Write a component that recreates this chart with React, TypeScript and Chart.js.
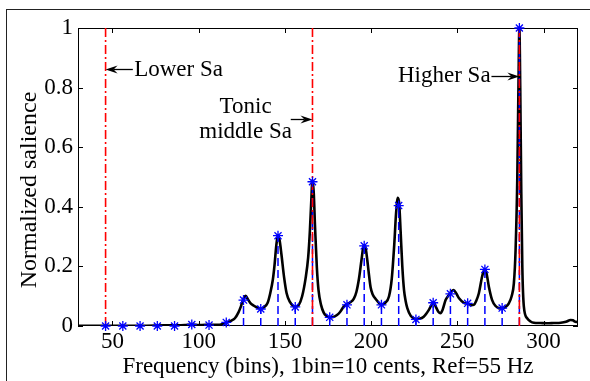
import React, { useEffect, useRef } from "react";
import { Chart, registerables } from "chart.js";
Chart.register(...registerables);

// Salience curve (bin, normalized salience)
const curveBins = [
  30, 40, 50, 60, 70, 80, 88, 92, 96, 100, 104, 108, 112, 116, 119, 121, 123, 124.5, 126, 127.3,
  128.5, 130, 132, 134, 136, 138, 140, 141.5, 143, 144, 145, 146, 147, 148, 149.5, 151, 153, 155,
  156, 158, 160, 162, 163.5, 164.5, 165.3, 166, 166.7, 167.5, 168.5, 169.5, 171, 172.5, 174, 176,
  178, 180, 182, 184, 186, 188, 190, 191.5, 193, 194.5, 195.7, 196.5, 197.5, 198.5, 199.7, 201,
  203, 205, 206, 208, 210.4, 212, 213.5, 214.5, 215.5, 216.3, 217.1, 218.1, 219.1, 220, 221, 223,
  225, 226, 228, 230.5, 233.5, 235, 236.2, 237.5, 239, 240.3, 241.5, 243.2, 245, 246.5, 247.8,
  249.5, 251, 253.8, 256, 258, 259.6, 261, 262.5, 264.4, 265.8, 267, 268.3, 270.2, 272.2, 274,
  276, 278, 279.9, 281.5, 282.8, 283.8, 284.8, 285.5, 286, 286.5, 287.1, 287.7, 288.6, 290.5,
  292.5, 294.4, 298, 302, 306, 310, 313, 315.7, 317, 318.5, 320,
];
const curveValues = [
  0.001, 0.001, 0.001, 0.001, 0.001, 0.002, 0.002, 0.003, 0.005, 0.003, 0.004, 0.004, 0.004, 0.01,
  0.018, 0.026, 0.045, 0.066, 0.092, 0.101, 0.09, 0.077, 0.068, 0.062, 0.058, 0.064, 0.078, 0.11,
  0.155, 0.205, 0.27, 0.305, 0.285, 0.24, 0.165, 0.11, 0.08, 0.066, 0.064, 0.07, 0.1, 0.16, 0.23,
  0.32, 0.42, 0.49, 0.45, 0.33, 0.2, 0.12, 0.07, 0.045, 0.034, 0.029, 0.03, 0.036, 0.047, 0.064,
  0.074, 0.08, 0.092, 0.115, 0.16, 0.225, 0.27, 0.27, 0.235, 0.185, 0.13, 0.105, 0.088, 0.075,
  0.072, 0.077, 0.1, 0.16, 0.28, 0.38, 0.43, 0.41, 0.32, 0.2, 0.12, 0.085, 0.06, 0.034, 0.025,
  0.023, 0.024, 0.031, 0.054, 0.07, 0.08, 0.065, 0.048, 0.043, 0.055, 0.087, 0.103, 0.115, 0.121,
  0.108, 0.093, 0.078, 0.075, 0.07, 0.071, 0.085, 0.11, 0.166, 0.19, 0.175, 0.132, 0.087, 0.067,
  0.06, 0.059, 0.064, 0.076, 0.1, 0.143, 0.255, 0.5, 0.82, 1.0, 0.8, 0.45, 0.2, 0.065, 0.026,
  0.015, 0.011, 0.01, 0.009, 0.01, 0.011, 0.014, 0.02, 0.019, 0.014, 0.013,
];

// Peak candidates (stems with asterisks)
const peakBins = [46, 56, 66, 76, 86, 96, 106, 116, 126, 136, 146, 156, 166, 176, 186, 196, 206, 216, 226, 236, 246, 256, 266, 276, 286];
const peakValues = [0, 0, 0, 0, 0, 0.005, 0.003, 0.012, 0.087, 0.057, 0.303, 0.064, 0.484, 0.029, 0.071, 0.269, 0.071, 0.404, 0.022, 0.078, 0.108, 0.076, 0.19, 0.06, 1.0];

// Sa positions (red dash-dot lines)
const saBins = [46, 166, 286];

const xTicks = [50, 100, 150, 200, 250, 300];
const yTicks = [0, 0.2, 0.4, 0.6, 0.8, 1];

const xTitle = "Frequency (bins), 1bin=10 cents, Ref=55 Hz";
const yTitle = "Normalized salience";

// Annotations
const annotationLines = [["Lower Sa"], ["Tonic", "middle Sa"], ["Higher Sa"]];
const annotationTextX = [62.6, 127.2, 269.3];
const annotationTextY = [[0.838], [0.715, 0.631], [0.818]];
const annotationAlign = ["left", "center", "right"];
const arrowTailX = [61.8, 153.4, 269.8];
const arrowHeadX = [46, 166, 286];
const arrowY = [0.864, 0.696, 0.84];

const FONT = "'Liberation Serif', 'Times New Roman', serif";

function drawArrow(ctx: CanvasRenderingContext2D, x0: number, y: number, x1: number) {
  const dir = Math.sign(x1 - x0);
  ctx.beginPath();
  ctx.moveTo(x0, y);
  ctx.lineTo(x1 - dir * 8, y);
  ctx.lineWidth = 1.3;
  ctx.strokeStyle = "#000";
  ctx.stroke();
  ctx.beginPath();
  ctx.moveTo(x1, y);
  ctx.lineTo(x1 - dir * 12, y - 4);
  ctx.lineTo(x1 - dir * 8, y);
  ctx.lineTo(x1 - dir * 12, y + 4);
  ctx.closePath();
  ctx.fillStyle = "#000";
  ctx.fill();
}

const decorPlugin = {
  id: "decor",
  beforeDatasetsDraw(chart: any) {
    const { ctx, chartArea: a, scales } = chart;
    const xs = scales.x;
    const ys = scales.y;
    ctx.save();
    ctx.strokeStyle = "#000";
    ctx.lineWidth = 1;
    ctx.strokeRect(a.left + 0.5, a.top + 0.5, a.right - a.left - 1, a.bottom - a.top - 1);
    const tl = 5;
    ctx.beginPath();
    xs.ticks.forEach((t: any) => {
      const px = Math.round(xs.getPixelForValue(t.value)) + 0.5;
      ctx.moveTo(px, a.bottom);
      ctx.lineTo(px, a.bottom - tl);
      ctx.moveTo(px, a.top);
      ctx.lineTo(px, a.top + tl);
    });
    ys.ticks.forEach((t: any) => {
      const py = Math.round(ys.getPixelForValue(t.value)) + 0.5;
      ctx.moveTo(a.left, py);
      ctx.lineTo(a.left + tl, py);
      ctx.moveTo(a.right, py);
      ctx.lineTo(a.right - tl, py);
    });
    ctx.stroke();

    // y-axis title
    ctx.save();
    ctx.translate(30, 190);
    ctx.rotate(-Math.PI / 2);
    ctx.font = `24px ${FONT}`;
    ctx.fillStyle = "#000";
    ctx.textAlign = "center";
    ctx.textBaseline = "middle";
    ctx.fillText(yTitle, 0, 0);
    ctx.restore();

    ctx.restore();
  },
  afterDatasetsDraw(chart: any) {
    const { ctx, scales } = chart;
    const xs = scales.x;
    const ys = scales.y;
    ctx.save();
    ctx.font = `23px ${FONT}`;
    ctx.fillStyle = "#000";
    ctx.textBaseline = "alphabetic";
    annotationLines.forEach((lines, i) => {
      ctx.textAlign = annotationAlign[i] as CanvasTextAlign;
      lines.forEach((line, j) => {
        ctx.fillText(line, xs.getPixelForValue(annotationTextX[i]), ys.getPixelForValue(annotationTextY[i][j]));
      });
      drawArrow(
        ctx,
        xs.getPixelForValue(arrowTailX[i]),
        Math.round(ys.getPixelForValue(arrowY[i])) + 0.5,
        xs.getPixelForValue(arrowHeadX[i])
      );
    });
    ctx.restore();
  },
};

export default function App() {
  const canvasRef = useRef<HTMLCanvasElement | null>(null);

  useEffect(() => {
    const canvas = canvasRef.current;
    if (!canvas) return;

    const curveData = curveBins.map((b, i) => ({ x: b, y: curveValues[i] }));
    const stemData: any[] = [];
    peakBins.forEach((b, i) => {
      stemData.push({ x: b, y: 0 }, { x: b, y: peakValues[i] }, { x: b, y: null });
    });
    const saData: any[] = [];
    saBins.forEach((b) => {
      saData.push({ x: b, y: 0 }, { x: b, y: 1 }, { x: b, y: null });
    });
    const markerData = peakBins.map((b, i) => ({ x: b, y: peakValues[i] }));

    const chart = new Chart(canvas, {
      type: "line",
      data: {
        datasets: [
          {
            label: "markers",
            data: markerData,
            showLine: false,
            pointStyle: "star",
            pointRadius: 5,
            pointBorderColor: "#0000ff",
            pointBackgroundColor: "#0000ff",
            pointBorderWidth: 1.3,
            clip: false as any,
            order: 1,
          },
          {
            label: "sa",
            data: saData,
            borderColor: "#ff0000",
            borderWidth: 1.6,
            borderDash: [9, 3, 2, 3],
            pointRadius: 0,
            spanGaps: false,
            order: 2,
          },
          {
            label: "stems",
            data: stemData,
            borderColor: "#0000ff",
            borderWidth: 1.5,
            borderDash: [8, 4],
            pointRadius: 0,
            spanGaps: false,
            order: 3,
          },
          {
            label: "salience",
            data: curveData,
            borderColor: "#000000",
            borderWidth: 2.6,
            pointRadius: 0,
            cubicInterpolationMode: "monotone",
            order: 4,
          },
        ],
      },
      options: {
        animation: false,
        responsive: false,
        events: [],
        layout: { padding: { left: 0, top: 28, right: 12, bottom: 0 } },
        plugins: {
          legend: { display: false },
          tooltip: { enabled: false },
        },
        scales: {
          x: {
            type: "linear",
            min: 30,
            max: 320,
            afterBuildTicks: (scale: any) => {
              scale.ticks = xTicks.map((v) => ({ value: v }));
            },
            afterFit: (scale: any) => {
              scale.height = 55;
            },
            grid: { display: false, drawTicks: false },
            border: { display: false },
            ticks: {
              color: "#000",
              font: { family: FONT, size: 23 },
              padding: 2,
              maxRotation: 0,
              autoSkip: false,
            },
            title: {
              display: true,
              text: xTitle,
              color: "#000",
              font: { family: FONT, size: 23 },
              padding: { top: 0, bottom: 0 },
            },
          },
          y: {
            type: "linear",
            min: 0,
            max: 1,
            afterBuildTicks: (scale: any) => {
              scale.ticks = yTicks.map((v) => ({ value: v }));
            },
            afterFit: (scale: any) => {
              scale.width = 78;
            },
            grid: { display: false, drawTicks: false },
            border: { display: false },
            ticks: {
              color: "#000",
              font: { family: FONT, size: 23 },
              padding: 5,
              autoSkip: false,
              callback: (v: any) => String(Number(v)),
            },
          },
        },
      },
      plugins: [decorPlugin],
    });

    return () => chart.destroy();
  }, []);

  return (
    <div
      style={{
        position: "fixed",
        left: 0,
        top: 0,
        width: 590,
        height: 381,
        overflow: "hidden",
        background: "#fff",
      }}
    >
      <div
        style={{
          position: "absolute",
          left: 6,
          top: 9,
          width: 700,
          height: 500,
          border: "1px solid #222",
        }}
      />
      <canvas
        ref={canvasRef}
        width={590}
        height={381}
        style={{ position: "absolute", left: 0, top: 0, display: "block" }}
      />
    </div>
  );
}
